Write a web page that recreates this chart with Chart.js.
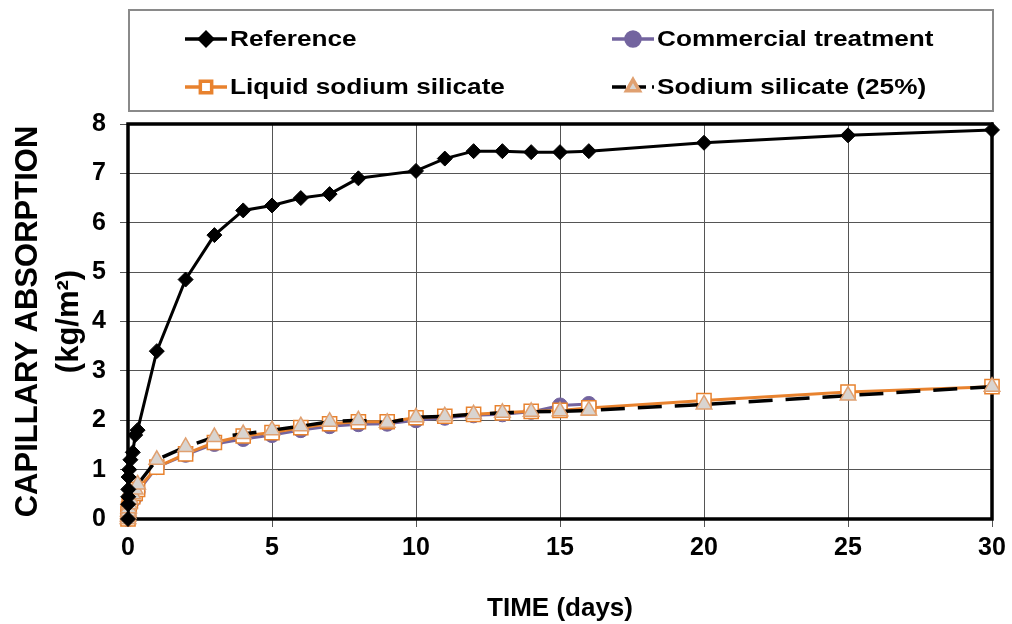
<!DOCTYPE html>
<html>
<head>
<meta charset="utf-8">
<script src="https://cdn.jsdelivr.net/npm/chart.js@4/dist/chart.umd.min.js"></script>
<style>
  html, body { margin: 0; padding: 0; background: #ffffff; }
  #wrap { width: 1012px; height: 624px; }
</style>
</head>
<body>
<div id="wrap"><canvas id="c" width="1012" height="624"></canvas></div>
<script>
// ---- data ----
const seriesLabels = ['Reference', 'Commercial treatment', 'Liquid sodium silicate', 'Sodium silicate (25%)'];

const refTimes = [0, 0.0035, 0.007, 0.0104, 0.0208, 0.042, 0.083, 0.167, 0.25, 0.333,
  1, 2, 3, 4, 5, 6, 7, 8, 10, 11, 12, 13, 14, 15, 16, 20, 25, 30];
const refValues = [0, 0.3, 0.45, 0.6, 0.85, 1.0, 1.2, 1.35, 1.7, 1.8,
  3.4, 4.85, 5.75, 6.25, 6.35, 6.5, 6.58, 6.9, 7.05, 7.3, 7.45, 7.45, 7.43, 7.43, 7.45, 7.62, 7.77, 7.88];

const treatTimes = [0, 0.0035, 0.007, 0.0104, 0.0208, 0.042, 0.083, 0.167, 0.25, 0.333,
  1, 2, 3, 4, 5, 6, 7, 8, 9, 10, 11, 12, 13, 14, 15, 16, 20, 25, 30];
const commercialTimes = [0, 0.0035, 0.007, 0.0104, 0.0208, 0.042, 0.083, 0.167, 0.25, 0.333,
  1, 2, 3, 4, 5, 6, 7, 8, 9, 10, 11, 12, 13, 14, 15, 16];
const commercialValues = [0, 0.03, 0.07, 0.1, 0.15, 0.22, 0.3, 0.38, 0.45, 0.55,
  1.05, 1.3, 1.52, 1.62, 1.7, 1.8, 1.88, 1.92, 1.93, 2.0, 2.05, 2.1, 2.12, 2.17, 2.3, 2.33];
const liquidValues = [0, 0.05, 0.1, 0.15, 0.2, 0.28, 0.36, 0.45, 0.52, 0.6,
  1.05, 1.32, 1.55, 1.68, 1.75, 1.85, 1.93, 1.97, 1.97, 2.05, 2.08, 2.12, 2.15, 2.18, 2.2, 2.25, 2.4, 2.57, 2.68];
const silicate25Values = [0, 0.05, 0.1, 0.15, 0.22, 0.3, 0.4, 0.5, 0.6, 0.7,
  1.2, 1.46, 1.66, 1.72, 1.8, 1.88, 1.97, 2.0, 1.95, 2.06, 2.08, 2.12, 2.15, 2.17, 2.18, 2.2, 2.32, 2.5, 2.68];

const xTickStep = 5, xMin = 0, xMax = 30;
const yTickStep = 1, yMin = 0, yMax = 8;
const xTitle = 'TIME (days)';
const yTitle = ['CAPILLARY ABSORPTION', '(kg/m²)'];

function pairs(xs, ys) { return xs.map((x, i) => ({ x: x, y: ys[i] })); }

Chart.defaults.font.family = "'Liberation Sans', Arial, sans-serif";
Chart.defaults.font.weight = 'bold';
Chart.defaults.color = '#000';

const legendPos = [
  { x: 185, y: 39 }, { x: 612, y: 39 },
  { x: 185, y: 87 }, { x: 612, y: 87 }
];

const framePlugin = {
  id: 'frame',
  beforeDatasetsDraw(chart) {
    const a = chart.chartArea, ctx = chart.ctx;
    ctx.save();
    ctx.strokeStyle = '#000';
    ctx.lineWidth = 3.5;
    ctx.strokeRect(a.left, a.top, a.right - a.left, a.bottom - a.top);
    ctx.restore();
  },
  afterDraw(chart) {
    const ctx = chart.ctx;
    ctx.save();
    ctx.strokeStyle = '#8a8a8a';
    ctx.lineWidth = 2;
    ctx.strokeRect(129, 10, 864, 101);
    chart.data.datasets.forEach((ds, i) => {
      const p = legendPos[i];
      ctx.save();
      ctx.strokeStyle = ds.borderColor;
      ctx.lineWidth = 3.5;
      ctx.setLineDash(ds.legendDash || []);
      ctx.beginPath();
      ctx.moveTo(p.x, p.y);
      ctx.lineTo(p.x + 42, p.y);
      ctx.stroke();
      ctx.setLineDash([]);
      ctx.fillStyle = ds.pointBackgroundColor;
      ctx.strokeStyle = ds.pointBorderColor;
      Chart.helpers.drawPoint(ctx, {
        pointStyle: ds.pointStyle, rotation: 0,
        radius: ds.legendRadius, borderWidth: ds.pointBorderWidth
      }, p.x + 21, p.y);
      ctx.restore();
      ctx.save();
      ctx.translate(p.x + 45, p.y);
      ctx.scale(1.19, 1);
      ctx.fillStyle = '#000';
      ctx.font = "bold 22px 'Liberation Sans', Arial, sans-serif";
      ctx.textBaseline = 'middle';
      ctx.textAlign = 'left';
      ctx.fillText(ds.label, 0, 1);
      ctx.restore();
    });
    ctx.restore();
  }
};

new Chart(document.getElementById('c'), {
  type: 'line',
  data: {
    datasets: [
      {
        label: seriesLabels[0], data: pairs(refTimes, refValues),
        borderColor: '#000', borderWidth: 3,
        pointStyle: 'rectRot', pointRadius: 7.5, legendRadius: 6.5,
        pointBackgroundColor: '#000', pointBorderColor: '#000', pointBorderWidth: 1,
        order: 0, clip: false, tension: 0
      },
      {
        label: seriesLabels[1], data: pairs(commercialTimes, commercialValues),
        borderColor: '#73649F', borderWidth: 3,
        pointStyle: 'circle', pointRadius: 7.5, legendRadius: 7,
        pointBackgroundColor: '#73649F', pointBorderColor: '#73649F', pointBorderWidth: 1,
        order: 3, clip: false, tension: 0
      },
      {
        label: seriesLabels[2], data: pairs(treatTimes, liquidValues),
        borderColor: '#E8822E', borderWidth: 3,
        pointStyle: 'rect', pointRadius: 10, legendRadius: 8,
        pointBackgroundColor: '#ffffff', pointBorderColor: '#E8822E', pointBorderWidth: 1.5,
        order: 2, clip: false, tension: 0
      },
      {
        label: seriesLabels[3], data: pairs(treatTimes, silicate25Values),
        borderColor: '#000', borderWidth: 3.5, borderDash: [24, 13], legendDash: [14, 6],
        pointStyle: 'triangle', pointRadius: 9, legendRadius: 7.5,
        pointBackgroundColor: '#D9D4D0', pointBorderColor: '#E0A070', pointBorderWidth: 1.5,
        order: 1, clip: false, tension: 0
      }
    ]
  },
  options: {
    responsive: false,
    animation: false,
    devicePixelRatio: 1,
    layout: { padding: { top: 124, right: 20, left: 0, bottom: 0 } },
    plugins: { legend: { display: false }, tooltip: { enabled: false } },
    scales: {
      x: {
        type: 'linear', min: xMin, max: xMax,
        afterFit(s) { s.height = 105; },
        ticks: { stepSize: xTickStep, padding: 6, color: '#000', font: { size: 25, weight: 'bold' } },
        grid: { color: '#555', lineWidth: 1, tickLength: 8, tickColor: '#555' },
        border: { display: false },
        title: { display: true, text: xTitle, color: '#000', font: { size: 26, weight: 'bold' }, padding: { top: 0, bottom: 0 } }
      },
      y: {
        type: 'linear', min: yMin, max: yMax,
        afterFit(s) { s.width = 128; },
        ticks: { stepSize: yTickStep, padding: 14, color: '#000', font: { size: 25, weight: 'bold' } },
        grid: { color: '#555', lineWidth: 1, tickLength: 8, tickColor: '#555' },
        border: { display: false },
        title: { display: true, text: yTitle, color: '#000', font: { size: 31, weight: 'bold', lineHeight: 1.32 }, padding: { top: 8, bottom: 0 } }
      }
    }
  },
  plugins: [framePlugin]
});
</script>
</body>
</html>
